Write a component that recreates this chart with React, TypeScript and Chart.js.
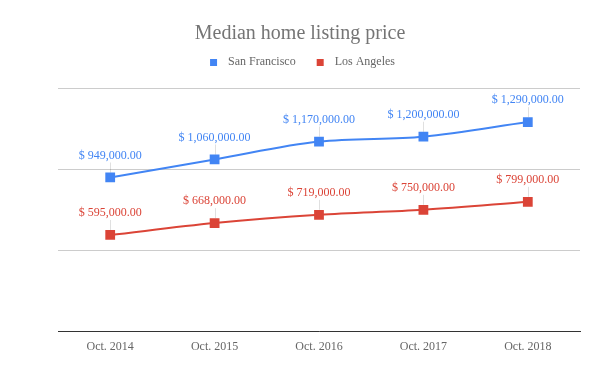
import React, { useEffect, useRef } from "react";
import { Chart, registerables } from "chart.js";

Chart.register(...registerables);

const categories = ["Oct. 2014", "Oct. 2015", "Oct. 2016", "Oct. 2017", "Oct. 2018"];
const sanFrancisco = [949000, 1060000, 1170000, 1200000, 1290000];
const losAngeles = [595000, 668000, 719000, 750000, 799000];
const seriesNames = ["San Francisco", "Los Angeles"];
const seriesColors = ["#4285F4", "#DB4437"];
const yMin = 0;
const yMax = 1500000;
const yStep = 500000;

const FONT = "'Liberation Serif', 'Times New Roman', serif";

function fmt(v: number) {
  return "$ " + v.toLocaleString("en-US", { minimumFractionDigits: 2, maximumFractionDigits: 2 });
}

function legendMarker(color: string) {
  const c = document.createElement("canvas");
  c.width = 17;
  c.height = 7;
  const g = c.getContext("2d") as CanvasRenderingContext2D;
  g.fillStyle = color;
  g.fillRect(5, 0, 7, 7);
  return c;
}

const labelPlugin = {
  id: "pointLabels",
  afterDatasetsDraw(chart: any) {
    const ctx = chart.ctx;
    ctx.save();
    chart.data.datasets.forEach((ds: any, i: number) => {
      const meta = chart.getDatasetMeta(i);
      meta.data.forEach((pt: any, j: number) => {
        const x = pt.x;
        const y = pt.y;
        ctx.strokeStyle = "rgba(0,0,0,0.12)";
        ctx.lineWidth = 1;
        ctx.beginPath();
        ctx.moveTo(Math.round(x) + 0.5, y - 15);
        ctx.lineTo(Math.round(x) + 0.5, y - 5);
        ctx.stroke();
        ctx.fillStyle = ds.borderColor;
        ctx.font = "12px " + FONT;
        ctx.textAlign = "center";
        ctx.textBaseline = "middle";
        ctx.fillText(fmt(ds.data[j]), x, y - 22);
      });
    });
    ctx.restore();
  },
};

const legendSpacer = {
  id: "legendSpacer",
  beforeInit(chart: any) {
    const legend = chart.legend;
    if (!legend) return;
    const orig = legend.fit;
    legend.fit = function () {
      orig.call(this);
      this.height += 10;
    };
  },
};

export default function App() {
  const ref = useRef<HTMLCanvasElement | null>(null);
  useEffect(() => {
    document.body.style.margin = "0";
    const markers = seriesColors.map(legendMarker);
    const chart = new Chart(ref.current as HTMLCanvasElement, {
      type: "line",
      data: {
        labels: categories,
        datasets: [
          {
            label: seriesNames[0],
            data: sanFrancisco,
            borderColor: seriesColors[0],
            backgroundColor: seriesColors[0],
            borderWidth: 2,
            pointStyle: "rect",
            pointRadius: 5.5,
            pointHoverRadius: 5.5,
            cubicInterpolationMode: "monotone",
          },
          {
            label: seriesNames[1],
            data: losAngeles,
            borderColor: seriesColors[1],
            backgroundColor: seriesColors[1],
            borderWidth: 2,
            pointStyle: "rect",
            pointRadius: 5.5,
            pointHoverRadius: 5.5,
            cubicInterpolationMode: "monotone",
          },
        ],
      },
      options: {
        responsive: false,
        animation: false,
        layout: { padding: { left: 20, right: 20, top: 22, bottom: 17 } },
        plugins: {
          title: {
            display: true,
            text: "Median home listing price",
            color: "#757575",
            font: { family: FONT, size: 20, weight: "normal" },
            padding: { top: 0, bottom: -6 },
          },
          legend: {
            labels: {
              usePointStyle: true,
              pointStyleWidth: 17,
              boxWidth: 7,
              boxHeight: 7,
              color: "#666",
              font: { family: FONT, size: 12 },
              padding: 16,
              generateLabels: (ch: any) => {
                const items = (Chart.defaults.plugins.legend.labels as any).generateLabels(ch);
                items.forEach((it: any, i: number) => {
                  it.pointStyle = markers[i];
                });
                return items;
              },
            },
          },
          tooltip: { enabled: false },
        },
        scales: {
          x: {
            offset: true,
            grid: { display: false },
            border: { display: true, color: "#333", width: 1 },
            ticks: { color: "#666", font: { family: FONT, size: 12 }, padding: 0 },
          },
          y: {
            min: yMin,
            max: yMax,
            ticks: { display: false, stepSize: yStep },
            grid: { color: "#ccc", drawTicks: false },
            border: { display: false },
            afterFit: (scale: any) => {
              scale.width = 38;
            },
          },
        },
      },
      plugins: [labelPlugin, legendSpacer],
    } as any);
    return () => chart.destroy();
  }, []);
  return (
    <div style={{ width: 600, height: 371 }}>
      <canvas ref={ref} width={600} height={371} />
    </div>
  );
}
